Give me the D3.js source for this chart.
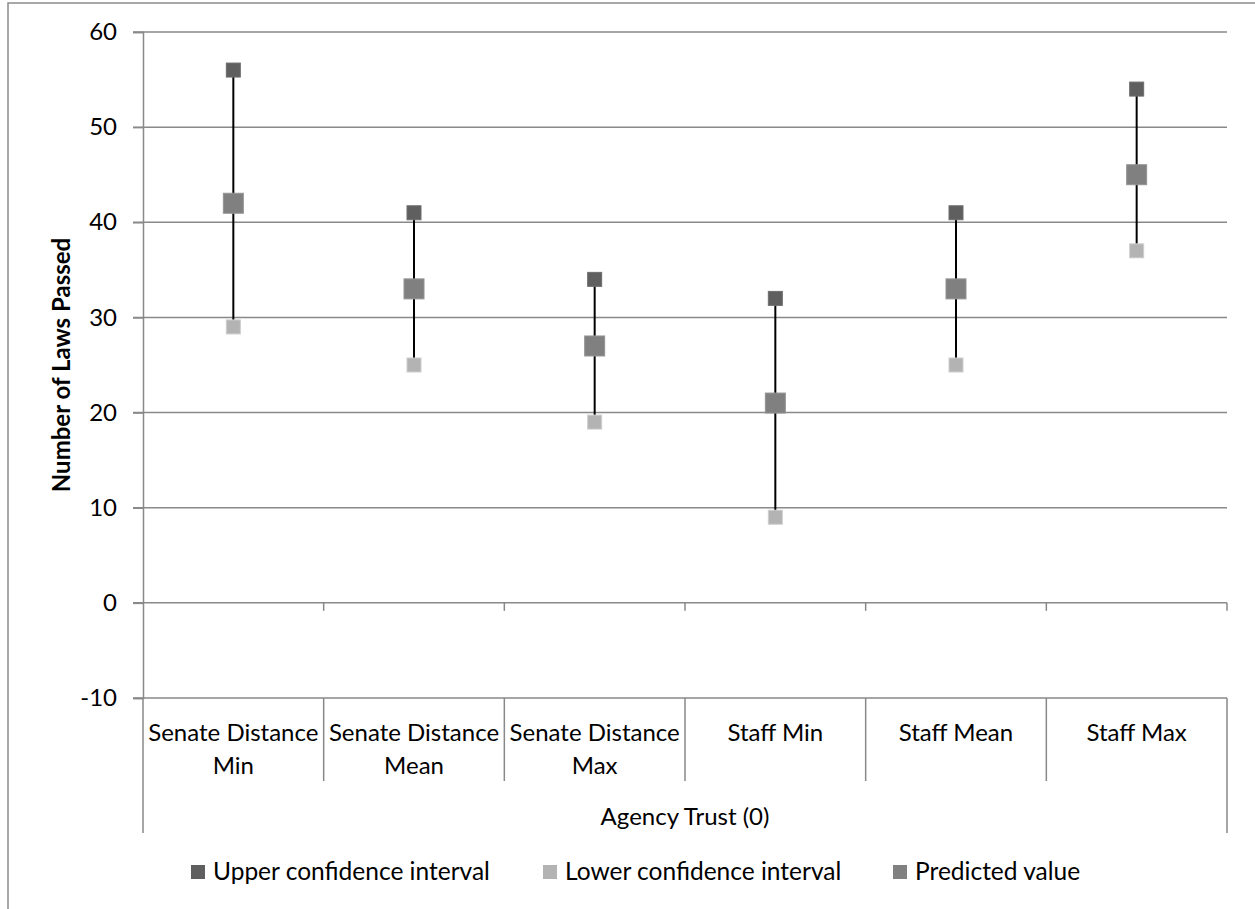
<!DOCTYPE html>
<html>
<head>
	<meta charset="UTF-8" />
	<title>Number of Laws Passed</title>
	<script src="https://cdn.jsdelivr.net/npm/d3@7"></script>
	<style>
		body { margin: 0; background: #fff; }
		svg text { font-family: Lato, "Open Sans", sans-serif; fill: #000; }
	</style>
</head>
<body>
	<div id="chart"></div>

	<script type="text/javascript">
		// data
		var categories = ["Senate Distance|Min", "Senate Distance|Mean", "Senate Distance|Max", "Staff Min", "Staff Mean", "Staff Max"];
		var upperCI = [56, 41, 34, 32, 41, 54];
		var lowerCI = [29, 25, 19, 9, 25, 37];
		var predicted = [42, 33, 27, 21, 33, 45];
		var yTicks = [-10, 0, 10, 20, 30, 40, 50, 60];
		var seriesNames = ["Upper confidence interval", "Lower confidence interval", "Predicted value"];
		var seriesColors = ["#5f5f5f", "#b3b3b3", "#808080"];

		var W = 1255, H = 909;
		var gridCol = "#898989";
		var fs = 24;

		var svg = d3.select("#chart").append("svg")
			.attr("width", W)
			.attr("height", H);

		// outer chart border (runs past the right/bottom edge)
		svg.append("rect")
			.attr("x", 8).attr("y", 3)
			.attr("width", W + 20).attr("height", H + 20)
			.attr("fill", "none")
			.attr("stroke", "#8c8c8c")
			.attr("stroke-width", 1.5);

		var x = d3.scaleBand().domain(categories).range([143, 1227]).padding(0);
		var y = d3.scaleLinear().domain([-10, 60]).range([698, 32]);
		var cx = function(i) { return x(categories[i]) + x.bandwidth() / 2; };

		// gridlines
		svg.append("g").selectAll("line")
			.data(yTicks)
			.enter().append("line")
			.attr("x1", 133).attr("x2", 1227)
			.attr("y1", function(d) { return y(d); })
			.attr("y2", function(d) { return y(d); })
			.attr("stroke", gridCol)
			.attr("stroke-width", 1.5);

		// y axis
		var yAxis = svg.append("g")
			.attr("transform", "translate(143,0)")
			.call(d3.axisLeft(y).tickValues(yTicks).tickSize(10).tickPadding(16)
				.tickFormat(function(d) { return String(d); }));
		yAxis.select(".domain").attr("stroke", gridCol).attr("stroke-width", 1.5);
		yAxis.selectAll(".tick line").attr("stroke", gridCol).attr("stroke-width", 1.5);
		yAxis.selectAll(".tick text")
			.attr("font-size", fs)
			.attr("font-family", "Lato, 'Open Sans', sans-serif")
			.attr("fill", "#000");

		// category boundaries
		var bounds = categories.map(function(c) { return x(c); }).concat([1227]);
		svg.append("g").selectAll("line")
			.data(bounds.slice(1))
			.enter().append("line")
			.attr("x1", function(d) { return d; }).attr("x2", function(d) { return d; })
			.attr("y1", y(0)).attr("y2", y(0) + 8)
			.attr("stroke", gridCol).attr("stroke-width", 1.5);
		svg.append("g").selectAll("line")
			.data(bounds)
			.enter().append("line")
			.attr("x1", function(d) { return d; }).attr("x2", function(d) { return d; })
			.attr("y1", y(-10))
			.attr("y2", function(d, i) { return (i == 0 || i == bounds.length - 1) ? 833 : 781; })
			.attr("stroke", gridCol).attr("stroke-width", 1.5);

		// category labels
		var labs = svg.append("g").selectAll("text")
			.data(categories)
			.enter().append("text")
			.attr("text-anchor", "middle")
			.attr("font-size", fs);
		labs.each(function(d, i) {
			var parts = d.split("|");
			var t = d3.select(this);
			parts.forEach(function(p, k) {
				t.append("tspan").attr("x", cx(i)).attr("y", 741 + k * 33).text(p);
			});
		});

		svg.append("text")
			.attr("x", (143 + 1227) / 2).attr("y", 825)
			.attr("text-anchor", "middle")
			.attr("font-size", fs)
			.text("Agency Trust (0)");

		svg.append("text")
			.attr("transform", "translate(70," + ((y(60) + y(-10)) / 2) + ") rotate(-90)")
			.attr("text-anchor", "middle")
			.attr("font-size", fs)
			.attr("font-weight", "bold")
			.text("Number of Laws Passed");

		// error bars
		svg.append("g").selectAll("line")
			.data(categories)
			.enter().append("line")
			.attr("x1", function(d, i) { return cx(i); })
			.attr("x2", function(d, i) { return cx(i); })
			.attr("y1", function(d, i) { return y(upperCI[i]); })
			.attr("y2", function(d, i) { return y(lowerCI[i]); })
			.attr("stroke", "#000")
			.attr("stroke-width", 2);

		var drawMarks = function(vals, col, size) {
			svg.append("g").selectAll("rect")
				.data(vals)
				.enter().append("rect")
				.attr("x", function(d, i) { return cx(i) - size / 2; })
				.attr("y", function(d) { return y(d) - size / 2; })
				.attr("width", size).attr("height", size)
				.attr("fill", col)
				.attr("stroke", d3.color(col).brighter(0.4))
				.attr("stroke-width", 1);
		};
		drawMarks(upperCI, seriesColors[0], 14);
		drawMarks(lowerCI, seriesColors[1], 14);
		drawMarks(predicted, seriesColors[2], 20);

		// legend
		var legX = [191, 543, 893];
		var leg = svg.append("g").selectAll("g")
			.data(seriesNames)
			.enter().append("g")
			.attr("transform", function(d, i) { return "translate(" + legX[i] + ",872)"; });
		leg.append("rect")
			.attr("x", 0).attr("y", -7)
			.attr("width", 14).attr("height", 14)
			.attr("fill", function(d, i) { return seriesColors[i]; });
		leg.append("text")
			.attr("x", 22).attr("y", 8)
			.attr("font-size", fs + 0.5)
			.text(function(d) { return d; });
	</script>
</body>
</html>
